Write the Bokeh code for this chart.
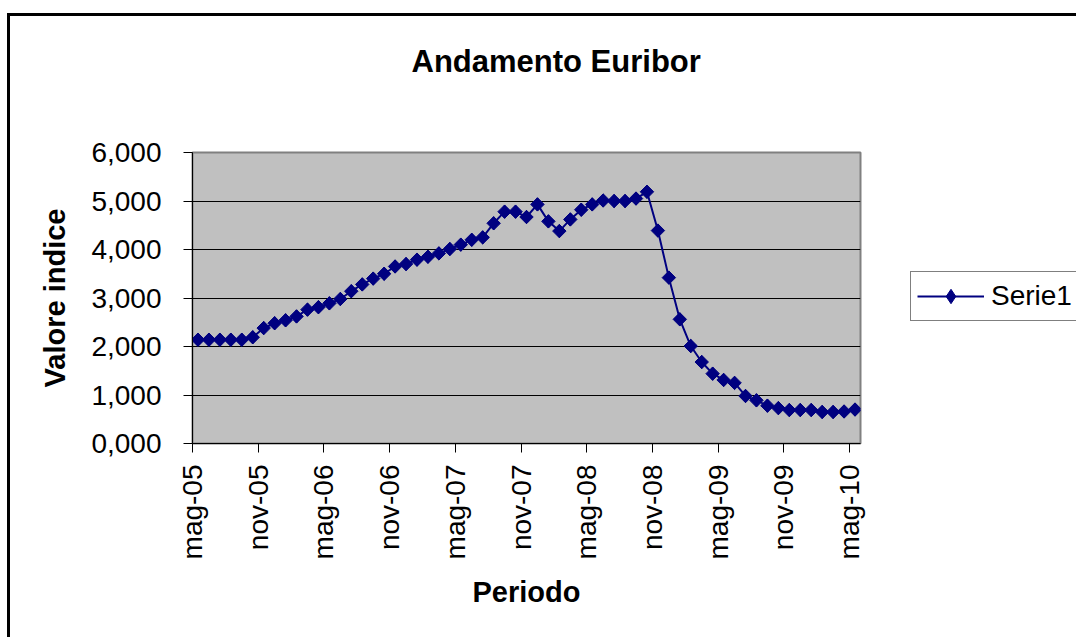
from bokeh.plotting import figure
from bokeh.models import FixedTicker, Legend, LegendItem, ColumnDataSource, Title
from bokeh.embed import file_html
from bokeh.resources import INLINE

# Monthly Euribor values, May 2005 .. May 2010
values = [2.14, 2.14, 2.14, 2.14, 2.14, 2.19, 2.38, 2.48, 2.54, 2.62,
          2.76, 2.81, 2.89, 2.98, 3.14, 3.28, 3.40, 3.50, 3.65, 3.70,
          3.79, 3.85, 3.92, 4.01, 4.10, 4.20, 4.25, 4.54, 4.78, 4.78,
          4.67, 4.93, 4.58, 4.38, 4.62, 4.82, 4.93, 5.01, 5.00, 5.00,
          5.05, 5.19, 4.39, 3.42, 2.56, 2.01, 1.68, 1.44, 1.31, 1.25,
          0.98, 0.89, 0.78, 0.73, 0.69, 0.69, 0.69, 0.65, 0.65, 0.66,
          0.70]
month_index = list(range(len(values)))
x_tick_pos = [0, 6, 12, 18, 24, 30, 36, 42, 48, 54, 60]
x_tick_labels = ["mag-05", "nov-05", "mag-06", "nov-06", "mag-07", "nov-07",
                 "mag-08", "nov-08", "mag-09", "nov-09", "mag-10"]
y_tick_pos = [0, 1, 2, 3, 4, 5, 6]
y_tick_labels = ["0,000", "1,000", "2,000", "3,000", "4,000", "5,000", "6,000"]
series_name = "Serie1"

src = ColumnDataSource(dict(x=[i + 0.5 for i in month_index], y=values))

FONT = "Liberation Sans"
NAVY = "#000080"

p = figure(frame_width=668, frame_height=291, output_backend="svg", toolbar_location=None,
           x_range=(0, len(values)), y_range=(0, 6),
           min_border_left=192, min_border_right=216, min_border_top=152, min_border_bottom=194)

# outer chart border drawn behind a transparent canvas border
p.border_fill_alpha = 0
p.styles = {
    "background": "linear-gradient(#000,#000) 7px 13px / 3px 2000px no-repeat, "
                  "linear-gradient(#000,#000) 7px 13px / 2000px 3px no-repeat, #ffffff"
}

p.background_fill_color = "#C0C0C0"
p.outline_line_color = "#808080"
p.outline_line_width = 2

# title (outermost) with a blank spacer title between it and the plot area
p.title.text = "Andamento Euribor"
p.title.text_font = FONT
p.title.text_font_size = "31px"
p.title.text_font_style = "bold"
p.title.text_color = "black"
p.title.align = "left"
p.title.offset = 219
p.title.standoff = 10
p.add_layout(Title(text=" ", text_font_size="10px", standoff=56), "above")

# axes
p.xaxis.ticker = FixedTicker(ticks=x_tick_pos)
p.xaxis.major_label_overrides = {t: l for t, l in zip(x_tick_pos, x_tick_labels)}
p.xaxis.major_label_orientation = 3.14159265 / 2
p.yaxis.ticker = FixedTicker(ticks=y_tick_pos)
p.yaxis.major_label_overrides = {t: l for t, l in zip(y_tick_pos, y_tick_labels)}

for ax in (p.xaxis[0], p.yaxis[0]):
    ax.axis_line_color = "black"
    ax.axis_line_width = 1
    ax.major_tick_line_color = "black"
    ax.major_tick_in = 0
    ax.major_tick_out = 9
    ax.minor_tick_line_color = None
    ax.major_label_text_font = FONT
    ax.major_label_text_font_size = "28px"
    ax.major_label_text_color = "black"
    ax.axis_label_text_font = FONT
    ax.axis_label_text_font_size = "29px"
    ax.axis_label_text_font_style = "bold"
    ax.axis_label_text_color = "black"

p.xaxis.axis_label = "Periodo"
p.yaxis.axis_label = "Valore indice"
p.xaxis.major_label_standoff = 12
p.yaxis.major_label_standoff = 22
p.xaxis.axis_label_standoff = 14
p.yaxis.axis_label_standoff = 17

p.xgrid.grid_line_color = None
p.ygrid.ticker = FixedTicker(ticks=[1, 2, 3, 4, 5])
p.ygrid.grid_line_color = "black"
p.ygrid.grid_line_width = 1

line_r = p.line("x", "y", source=src, line_color=NAVY, line_width=2)
# diamond glyph (used for the legend key) sits fully under the rotated-square markers
key_r = p.scatter("x", "y", source=src, marker="diamond", size=13,
                  fill_color=NAVY, line_color=NAVY)
pts_r = p.scatter("x", "y", source=src, marker="square", size=9.5, angle=0.785398,
                  fill_color=NAVY, line_color=NAVY)

legend = Legend(items=[LegendItem(label=series_name, renderers=[line_r, key_r])],
                location=(50, 122), margin=0, padding=6, spacing=0,
                glyph_width=67, glyph_height=36, label_standoff=7,
                label_text_font=FONT, label_text_font_size="28px",
                label_text_color="black",
                border_line_color="black", border_line_width=1,
                background_fill_color="white", background_fill_alpha=1)
p.add_layout(legend, "right")

open("out.html", "w").write(file_html(p, INLINE))
